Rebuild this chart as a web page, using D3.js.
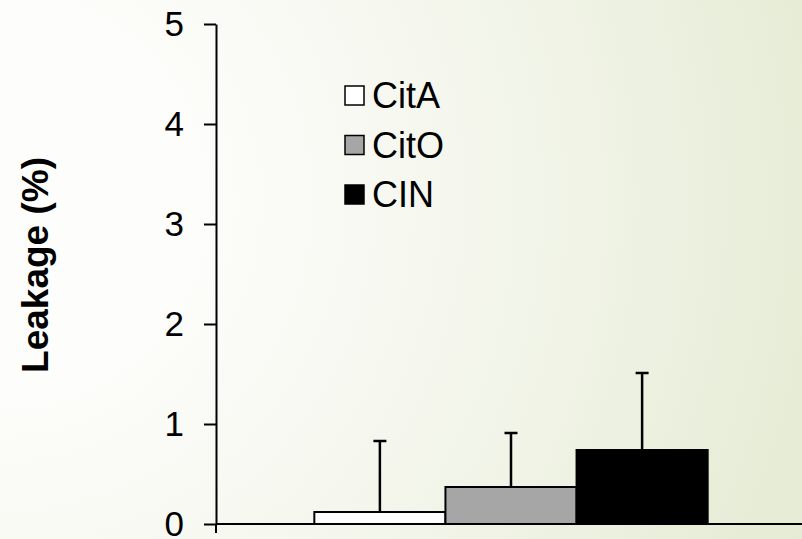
<!DOCTYPE html>
<html>
<head>
<meta charset="utf-8">
<script src="https://cdn.jsdelivr.net/npm/d3@7"></script>
<style>
  html, body { margin: 0; padding: 0; }
  body { width: 802px; height: 539px; overflow: hidden; }
  text { font-family: "Liberation Sans", Arial, sans-serif; fill: #000; }
</style>
</head>
<body>
<div id="chart"></div>
<script>
var categories = ["CitA", "CitO", "CIN"];
var means = [0.12, 0.37, 0.74];
var sd = [0.71, 0.54, 0.77];
var fills = ["#ffffff", "#a6a6a6", "#000000"];
var yTicks = [0, 1, 2, 3, 4, 5];

var W = 802, H = 539;
var margin = {l: 216, r: 0, t: 24, b: 15};

var svg = d3.select("#chart").append("svg")
  .attr("width", W).attr("height", H);

// background wash, white on the left fading to pale green on the right
var defs = svg.append("defs");
var grad = defs.append("radialGradient").attr("id", "bg")
  .attr("gradientUnits", "userSpaceOnUse")
  .attr("cx", 0).attr("cy", 200).attr("r", 900);
grad.append("stop").attr("offset", "0.2").attr("stop-color", "#fdfdfb");
grad.append("stop").attr("offset", "0.5").attr("stop-color", "#f5f7ee");
grad.append("stop").attr("offset", "1").attr("stop-color", "#e4ead2");
svg.append("rect").attr("width", W).attr("height", H).attr("fill", "url(#bg)");

var y = d3.scaleLinear().domain([0, 5]).range([H - margin.b, margin.t]);

// one group on the category axis, the three series sit side by side inside it
var x0 = d3.scaleBand().domain(["all"]).range([margin.l, 806]).paddingOuter(0.25).paddingInner(0);
var x1 = d3.scaleBand().domain(categories).range([0, x0.bandwidth()]).padding(0);

var rows = categories.map(function(c, i) {
  return {name: c, mean: means[i], sd: sd[i], fill: fills[i]};
});

var g = svg.append("g");

g.selectAll(".bar").data(rows).enter().append("rect")
  .attr("class", "bar")
  .attr("x", function(d) { return x0("all") + x1(d.name); })
  .attr("y", function(d) { return y(d.mean); })
  .attr("width", x1.bandwidth())
  .attr("height", function(d) { return y(0) - y(d.mean); })
  .style("fill", function(d) { return d.fill; })
  .style("stroke", "#000")
  .style("stroke-width", 2);

var cap = 13;
var eb = g.selectAll(".err").data(rows).enter().append("g").attr("class", "err");
eb.append("line")
  .attr("x1", function(d) { return x0("all") + x1(d.name) + x1.bandwidth() / 2; })
  .attr("x2", function(d) { return x0("all") + x1(d.name) + x1.bandwidth() / 2; })
  .attr("y1", function(d) { return y(d.mean); })
  .attr("y2", function(d) { return y(d.mean + d.sd); })
  .style("stroke", "#000").style("stroke-width", 2.5);
eb.append("line")
  .attr("x1", function(d) { return x0("all") + x1(d.name) + x1.bandwidth() / 2 - cap / 2; })
  .attr("x2", function(d) { return x0("all") + x1(d.name) + x1.bandwidth() / 2 + cap / 2; })
  .attr("y1", function(d) { return y(d.mean + d.sd); })
  .attr("y2", function(d) { return y(d.mean + d.sd); })
  .style("stroke", "#000").style("stroke-width", 2.5);

// y axis
var yAxis = d3.axisLeft(y).tickValues(yTicks).tickFormat(d3.format("d"))
  .tickSize(12).tickSizeOuter(0).tickPadding(20);
var ya = svg.append("g").attr("transform", "translate(" + margin.l + ",0)").call(yAxis);
ya.select(".domain").style("stroke", "#000").style("stroke-width", 2);
ya.selectAll(".tick line").style("stroke", "#000").style("stroke-width", 2);
ya.selectAll(".tick text").style("font-size", "35px").style("font-family", "'Liberation Sans', Arial, sans-serif");

// x axis: baseline with the boundary tick below the corner
svg.append("line")
  .attr("x1", margin.l).attr("x2", W)
  .attr("y1", y(0)).attr("y2", y(0))
  .style("stroke", "#000").style("stroke-width", 2);
svg.append("line")
  .attr("x1", margin.l).attr("x2", margin.l)
  .attr("y1", y(0)).attr("y2", y(0) + 9)
  .style("stroke", "#000").style("stroke-width", 2);

// y label
svg.append("text")
  .attr("transform", "translate(48," + 265 + ") rotate(-90)")
  .attr("text-anchor", "middle")
  .style("font-size", "37px").style("font-weight", "bold")
  .text("Leakage (%)");

// legend
var leg = svg.append("g").attr("transform", "translate(345,86)");
var li = leg.selectAll(".li").data(rows).enter().append("g")
  .attr("transform", function(d, i) { return "translate(0," + (i * 49.5) + ")"; });
li.append("rect").attr("width", 19).attr("height", 19)
  .style("fill", function(d) { return d.fill; })
  .style("stroke", "#000").style("stroke-width", 1.5);
li.append("text").attr("x", 27).attr("y", 22)
  .style("font-size", "36px")
  .text(function(d) { return d.name; });
</script>
</body>
</html>
